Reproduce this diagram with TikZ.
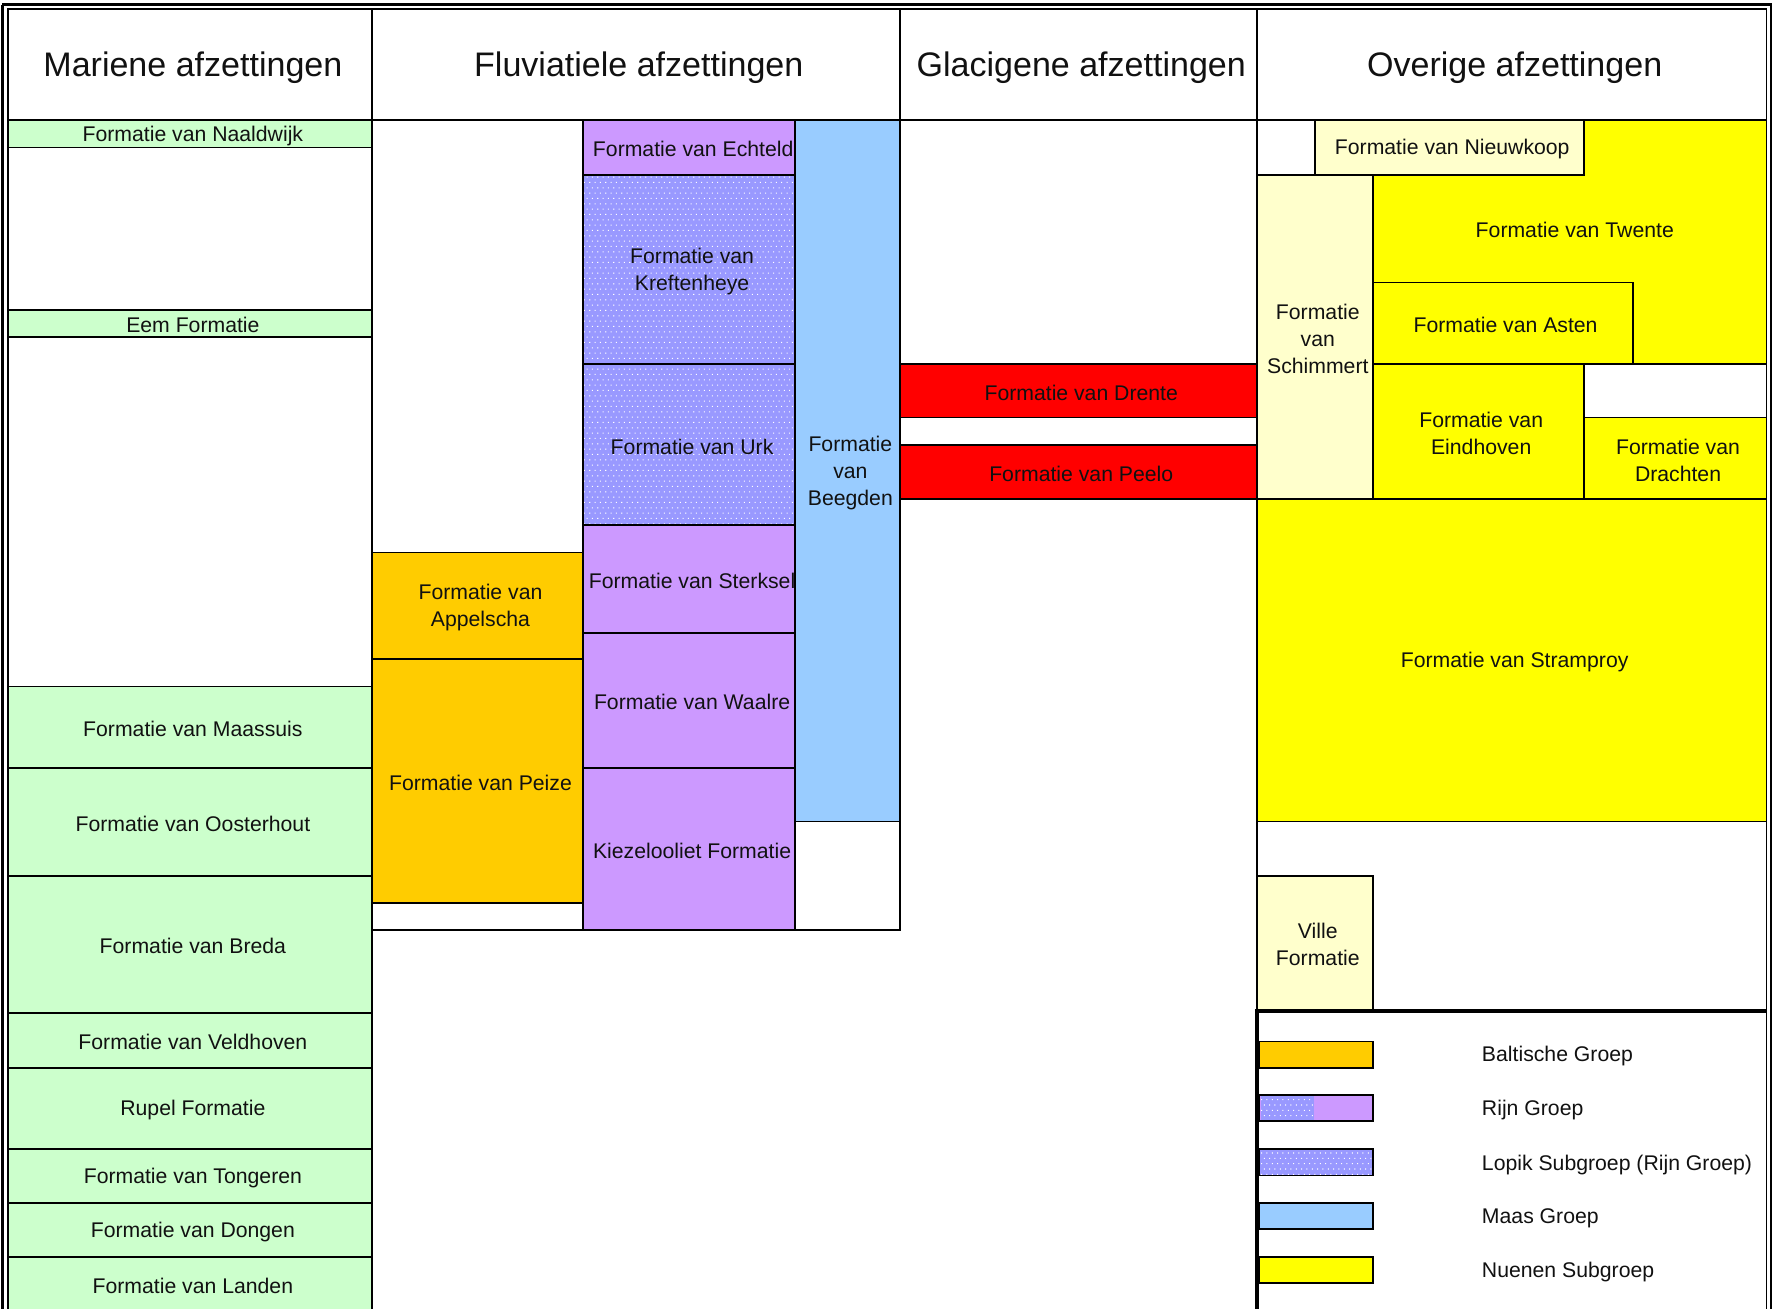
\documentclass[tikz,border=0pt]{standalone}
\usepackage{fontspec}
\setmainfont{Liberation Sans}
\usetikzlibrary{patterns}
\definecolor{mgreen}{HTML}{CCFFCC}
\definecolor{borange}{HTML}{FFCC00}
\definecolor{rpurple}{HTML}{CC99FF}
\definecolor{lopikblue}{HTML}{9999FF}
\definecolor{maasblue}{HTML}{99CCFF}
\definecolor{gred}{HTML}{FF0000}
\definecolor{nyellow}{HTML}{FFFF00}
\definecolor{lyellow}{HTML}{FFFFCC}
\definecolor{inktext}{HTML}{111111}
\pgfdeclarepatternformonly{geodots}{\pgfpoint{0pt}{0pt}}{\pgfpoint{3.3pt}{5.7pt}}{\pgfpoint{4.7pt}{9.4pt}}{\pgfpathrectangle{\pgfpoint{0pt}{0pt}}{\pgfpoint{0.9pt}{0.9pt}}\pgfpathrectangle{\pgfpoint{2.35pt}{4.7pt}}{\pgfpoint{0.9pt}{0.9pt}}\pgfusepath{fill}}
\newcommand\geobody{\fontsize{18.7}{23.8}\selectfont}
\newcommand\geohead{\fontsize{30}{36}\selectfont}
\tikzset{
  geocell/.style={draw=black, line width=1.6pt, inner sep=0pt, outer sep=0pt},
  lopik/.style={preaction={fill=lopikblue}, pattern=geodots, pattern color=white},
  geotext/.style={inner sep=0pt, align=center, font=\geobody, text=inktext, yshift=-1.5pt},
  geohtext/.style={inner sep=0pt, align=center, font=\geohead, text=inktext, yshift=-3pt},
  geoline/.style={line width=1.6pt},
}
\newcommand\geobox[7]{\node[geocell,#2,anchor=north west,minimum width={(#5-#3)*1pt},minimum height={(#6-#4)*1pt}] (#1) at (#3,#4) {};
  \node[geotext,xshift=2.5pt] (#1-t) at (#1.center) {#7};}
\newcommand\geohbox[6]{\node[geocell,fill=white,anchor=north west,minimum width={(#5-#3)*1pt},minimum height={(#6-#4)*1pt}] (#1) at (#3,#4) {};
  \node[geohtext,xshift=2.5pt] (#1-t) at (#1.center) {#2};}
\begin{document}
\begin{tikzpicture}[x=1pt,y=-1pt]
\useasboundingbox (0,0) rectangle (1568,1153);
\clip (0,0) rectangle (1568,1153);
\fill[white] (0,0) rectangle (1568,1153);
% header
\geohbox{hmar}{Mariene afzettingen}{7}{8}{328}{106}
\geohbox{hflu}{Fluviatiele afzettingen}{328}{8}{793}{106}
\geohbox{hgla}{Glacigene afzettingen}{793}{8}{1108}{106}
\geohbox{hove}{Overige afzettingen}{1108}{8}{1557}{106}
% Mariene
\geobox{naaldwijk}{fill=mgreen}{7}{106}{328}{130}{Formatie van Naaldwijk}
\geobox{eem}{fill=mgreen}{7}{273}{328}{297}{Eem Formatie}
\geobox{maassuis}{fill=mgreen}{7}{605}{328}{677}{Formatie van Maassuis}
\geobox{oosterhout}{fill=mgreen}{7}{677}{328}{772}{Formatie van Oosterhout}
\geobox{breda}{fill=mgreen}{7}{772}{328}{893}{Formatie van Breda}
\geobox{veldhoven}{fill=mgreen}{7}{893}{328}{941}{Formatie van Veldhoven}
\geobox{rupel}{fill=mgreen}{7}{941}{328}{1013}{Rupel Formatie}
\geobox{tongeren}{fill=mgreen}{7}{1013}{328}{1060}{Formatie van Tongeren}
\geobox{dongen}{fill=mgreen}{7}{1060}{328}{1108}{Formatie van Dongen}
\geobox{landen}{fill=mgreen}{7}{1108}{328}{1155}{Formatie van Landen}
% Fluviatiele - Baltic
\geobox{appelscha}{fill=borange}{328}{487}{514}{581}{Formatie van\\Appelscha}
\geobox{peize}{fill=borange}{328}{581}{514}{796}{Formatie van Peize}
\geobox{fluwhiteA}{fill=white}{328}{796}{514}{820}{}
% Rijn
\geobox{echteld}{fill=rpurple}{514}{106}{701}{154}{\hspace*{2pt}Formatie van Echteld}
\geobox{kreftenheye}{lopik}{514}{154}{701}{321}{Formatie van\\Kreftenheye}
\geobox{urk}{lopik}{514}{321}{701}{463}{Formatie van Urk}
\geobox{sterksel}{fill=rpurple}{514}{463}{701}{558}{Formatie van Sterksel}
\geobox{waalre}{fill=rpurple}{514}{558}{701}{677}{Formatie van Waalre}
\geobox{kiezel}{fill=rpurple}{514}{677}{701}{820}{Kiezelooliet Formatie}
% Maas
\geobox{beegden}{fill=maasblue}{701}{106}{793}{724}{Formatie\\van\\Beegden}
\geobox{fluwhiteB}{fill=white}{701}{724}{793}{820}{}
% Glacigene
\geobox{drente}{fill=gred}{793}{321}{1108}{368}{Formatie van Drente}
\geobox{peelo}{fill=gred}{793}{392}{1108}{440}{Formatie van Peelo}
% Overige
\geobox{twente}{fill=nyellow}{1210}{106}{1557}{321}{}
\node[geotext] (ttwente) at (1388,201) {Formatie van Twente};
\geobox{ovwhiteA}{fill=white}{1108}{106}{1159}{154}{}
\geobox{nieuwkoop}{fill=lyellow}{1159}{106}{1396}{154}{Formatie van Nieuwkoop}
\geobox{asten}{fill=nyellow}{1210}{249}{1439}{321}{Formatie van Asten}
\geobox{schimmert}{fill=lyellow}{1108}{154}{1210}{440}{Formatie\\van\\Schimmert}
\geobox{eindhoven}{fill=nyellow}{1210}{321}{1396}{440}{Formatie van\\Eindhoven}
\geobox{ovwhiteB}{fill=white}{1396}{321}{1557}{368}{}
\geobox{drachten}{fill=nyellow}{1396}{368}{1557}{440}{Formatie van\\Drachten}
\geobox{stramproy}{fill=nyellow}{1108}{440}{1557}{724}{Formatie van Stramproy}
\geobox{ville}{fill=lyellow}{1108}{772}{1210}{890}{Ville\\Formatie}
% column lines
\draw[geoline] (328,106) -- (328,820);
\draw[geoline] (793,106) -- (793,820);
\draw[geoline] (1108,106) -- (1108,891);
% legend
\geobox{lbal}{fill=borange}{1110}{918}{1210}{941}{}
\geobox{lrijn}{fill=rpurple}{1110}{965}{1210}{988}{}
\fill[lopik] (1111,966) rectangle (1158,987);
\geobox{llopik}{lopik}{1110}{1013}{1210}{1036}{}
\geobox{lmaas}{fill=maasblue}{1110}{1060}{1210}{1083}{}
\geobox{lnuenen}{fill=nyellow}{1110}{1108}{1210}{1131}{}
\node[geotext, anchor=west] (tbal) at (1306,929) {Baltische Groep};
\node[geotext, anchor=west] (trijn) at (1306,977) {Rijn Groep};
\node[geotext, anchor=west] (tlopik) at (1306,1025) {Lopik Subgroep (Rijn Groep)};
\node[geotext, anchor=west] (tmaas) at (1306,1072) {Maas Groep};
\node[geotext, anchor=west] (tnuenen) at (1306,1120) {Nuenen Subgroep};
\draw[line width=3.6pt] (1106,891) -- (1557,891);
\draw[line width=3.6pt] (1108,889) -- (1108,1170);
% frame
\draw[line width=1.4pt] (7,8) -- (7,1170);
\draw[line width=1.4pt] (7,8) -- (1557,8) -- (1557,1170);
\draw[line width=2.4pt] (2,4) -- (1561,4) -- (1561,1170);
\draw[line width=2.4pt] (2,4) -- (2,1170);
\end{tikzpicture}
\end{document}
